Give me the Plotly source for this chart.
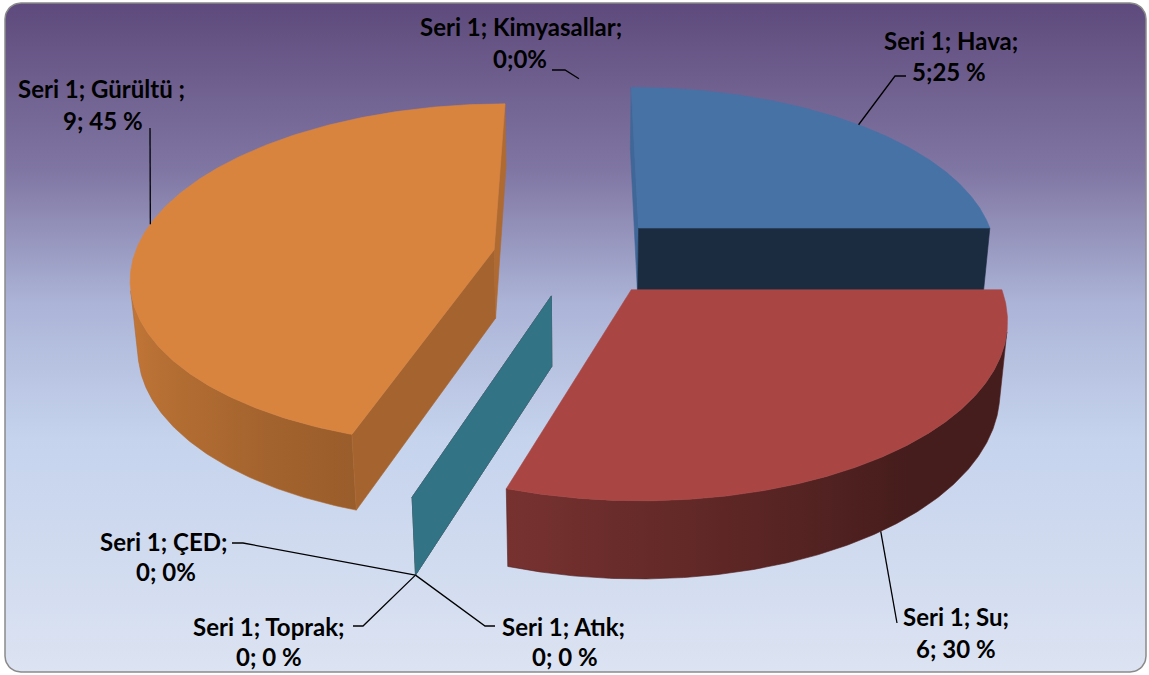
import numpy as np
import plotly.graph_objects as go

# ---------------- data ----------------
series_name = "Seri 1"
categories = ["Hava", "Su", "Atık", "Toprak", "ÇED", "Gürültü", "Kimyasallar"]
values = [5, 6, 0, 0, 0, 9, 0]
label_line1 = ["Seri 1; Hava;", "Seri 1; Su;", "Seri 1; Atık;", "Seri 1; Toprak;",
               "Seri 1; ÇED;", "Seri 1; Gürültü ;", "Seri 1; Kimyasallar;"]
label_line2 = ["5;25 %", "6; 30 %", "0; 0 %", "0; 0 %", "0; 0%", "9; 45 %", "0;0%"]

# ---------------- style ----------------
slice_colors = ["#4F81BD", "#C0504D", "#9BBB59", "#8064A2", "#4BACC6", "#F79646", "#2C4D75"]
W, H = 1149, 675
CX, CY = 579, 256          # pixel position of pie centre
SCALE = 360                 # pixels per unit radius
TILT = np.radians(28)       # elevation of the view
DIST = 6.0                  # camera distance (perspective)
EXPLODE = 0.24              # explosion, in radius units
DEPTH = 0.22                # pie thickness, in radius units
TOP_SHADE = 0.88
FONT = dict(family="Lato", size=24, color="#000000")
# label placement (layout only)
label_layout = [
    dict(l1=(951, 40), l2=(949, 71), lead=[(906, 76), (895, 76)], anchor="top"),
    dict(l1=(956, 616), l2=(956, 648), lead=[(897, 623)], anchor="bottom"),
    dict(l1=(563, 626), l2=(565, 656), lead=[(495, 626), (485, 626)], anchor="bottom"),
    dict(l1=(269, 626), l2=(269, 656), lead=[(353, 626), (363, 626)], anchor="bottom"),
    dict(l1=(164, 541), l2=(166, 571), lead=[(232, 543), (243, 543)], anchor="bottom"),
    dict(l1=(101, 88), l2=(103, 120), lead=[(150, 128)], anchor="top"),
    dict(l1=(521, 26), l2=(520, 58), lead=[(552, 70), (565, 70)], anchor="top"),
]

sinT, cosT = np.sin(TILT), np.cos(TILT)
CAM = np.array([0.0, DIST * sinT, DIST * cosT])


def project(X, Y, Z):
    X, Y, Z = np.asarray(X, float), np.asarray(Y, float), np.asarray(Z, float)
    yc = Y * cosT - Z * sinT
    zc = Y * sinT + Z * cosT
    f = DIST / (DIST - zc)
    return CX + SCALE * X * f, CY - SCALE * yc * f


def hex2rgb(h):
    h = h.lstrip("#")
    return np.array([int(h[i:i + 2], 16) for i in (0, 2, 4)], float)


def shade(hexcol, k):
    c = np.clip(hex2rgb(hexcol) * k, 0, 255)
    return "rgb(%d,%d,%d)" % tuple(c.round())


def clock_angle(nx, nz):
    return np.degrees(np.arctan2(nx, -nz)) % 360


def cut_light(a):
    return np.interp(a, [0, 90, 108, 180, 270, 360], [0.80, 0.71, 0.67, 0.34, 0.80, 0.80])


def wall_light(a):
    return np.interp(a, [0, 90, 140, 165, 198, 250, 270, 360],
                     [0.80, 0.36, 0.36, 0.47, 0.62, 0.78, 0.80, 0.80])


total = float(sum(values))
starts = np.concatenate([[0], np.cumsum(values)[:-1]]) / total * 2 * np.pi
ends = np.cumsum(values) / total * 2 * np.pi

fig = go.Figure()

# background with rounded corners and vertical gradient
r = 16
x0, x1, y0, y1 = 5, W - 3, 3, H - 3
t = np.linspace(0, np.pi / 2, 12)
bx = np.concatenate([x1 - r + r * np.sin(t), x1 - r + r * np.cos(t), x0 + r - r * np.sin(t), x0 + r - r * np.cos(t)])
by = np.concatenate([y0 + r - r * np.cos(t), y1 - r + r * np.sin(t), y1 - r + r * np.cos(t), y0 + r - r * np.sin(t)])
fig.add_trace(go.Scatter(
    x=np.append(bx, bx[0]), y=np.append(by, by[0]), mode="lines", fill="toself",
    line=dict(color="#8a8a8a", width=1.5),
    fillgradient=dict(type="vertical", colorscale=[
        [0.0, "rgb(220,227,242)"], [0.35, "rgb(197,211,237)"], [0.55, "rgb(172,180,215)"],
        [0.75, "rgb(128,118,163)"], [1.0, "rgb(94,74,124)"]]),
    hoverinfo="skip", showlegend=False))


def add_poly(xs, ys, color, grad=None):
    kw = {}
    if grad is not None:
        kw["fillgradient"] = dict(type="horizontal", colorscale=grad)
    fig.add_trace(go.Scatter(x=np.append(xs, xs[0]), y=np.append(ys, ys[0]), mode="lines",
                             fill="toself", fillcolor=color, line=dict(color=color, width=0.6),
                             hoverinfo="skip", showlegend=False, **kw))


slices = []
for i, v in enumerate(values):
    a0, a1 = starts[i], ends[i]
    mid = (a0 + a1) / 2
    ox, oz = EXPLODE * np.sin(mid), -EXPLODE * np.cos(mid)
    slices.append((oz * cosT, i, a0, a1, ox, oz))
slices.sort(key=lambda s: (s[0], s[1]))

anchors = {}
for depth_key, i, a0, a1, ox, oz in slices:
    col = slice_colors[i]
    # radial cut faces
    for ang, sgn in ((a0, -1), (a1, 1)):
        n = sgn * np.array([np.cos(ang), 0, np.sin(ang)])
        P = np.array([ox, 0, oz])
        if n.dot(CAM - P) > 1e-3:
            rx, rz = ox + np.sin(ang), oz - np.cos(ang)
            sx, sy = project([ox, rx, rx, ox], [0, 0, -DEPTH, -DEPTH], [oz, rz, rz, oz])
            add_poly(sx, sy, shade(col, cut_light(clock_angle(n[0], n[2]))))
    # outer wall and top face
    if a1 > a0:
        th = np.linspace(a0, a1, 240)
        PX, PZ = ox + np.sin(th), oz - np.cos(th)
        nx, nz = np.sin(th), -np.cos(th)
        vis = nx * (CAM[0] - PX) + nz * (CAM[2] - PZ) > 0
        idx = np.where(vis)[0]
        if len(idx) > 1:
            runs = np.split(idx, np.where(np.diff(idx) > 1)[0] + 1)
            for run in runs:
                if len(run) < 2:
                    continue
                tx, ty = project(PX[run], np.zeros(len(run)), PZ[run])
                bx2, by2 = project(PX[run], -DEPTH * np.ones(len(run)), PZ[run])
                lights = wall_light(clock_angle(nx[run], nz[run]))
                order = np.argsort(tx)
                xs_sorted = tx[order]
                span = xs_sorted[-1] - xs_sorted[0]
                stops, last = [], -1
                for k in np.linspace(0, len(order) - 1, 14).astype(int):
                    p = (xs_sorted[k] - xs_sorted[0]) / span if span > 0 else 0
                    if p > last:
                        stops.append([float(p), shade(col, lights[order[k]])])
                        last = p
                stops[0][0], stops[-1][0] = 0.0, 1.0
                mean_col = shade(col, float(np.mean(lights)))
                add_poly(np.concatenate([tx, bx2[::-1]]), np.concatenate([ty, by2[::-1]]), mean_col, grad=stops)
        sx, sy = project(np.concatenate([[ox], ox + np.sin(th)]), np.zeros(len(th) + 1),
                         np.concatenate([[oz], oz - np.cos(th)]))
        add_poly(sx, sy, shade(col, TOP_SHADE))
    # leader anchor at the slice's mid angle
    midang = (a0 + a1) / 2
    yv = 0 if label_layout[i]["anchor"] == "top" else -DEPTH
    ax_, ay_ = project(ox + np.sin(midang), yv, oz - np.cos(midang))
    anchors[i] = (float(ax_), float(ay_))

# leader lines
lx, ly = [], []
for i in range(len(categories)):
    for p in label_layout[i]["lead"] + [anchors[i]]:
        lx.append(p[0]); ly.append(p[1])
    lx.append(None); ly.append(None)
fig.add_trace(go.Scatter(x=lx, y=ly, mode="lines", line=dict(color="black", width=1.3),
                         hoverinfo="skip", showlegend=False))

annotations = []
for i in range(len(categories)):
    for txt, pos in ((label_line1[i], label_layout[i]["l1"]), (label_line2[i], label_layout[i]["l2"])):
        annotations.append(dict(x=pos[0], y=pos[1], xref="x", yref="y", text="<b>%s</b>" % txt,
                                showarrow=False, xanchor="center", yanchor="middle", font=FONT))

fig.update_layout(
    width=W, height=H, margin=dict(l=0, r=0, t=0, b=0),
    paper_bgcolor="white", plot_bgcolor="white",
    xaxis=dict(range=[0, W], visible=False, fixedrange=True),
    yaxis=dict(range=[H, 0], visible=False, fixedrange=True),
    annotations=annotations, showlegend=False,
)
fig.write_html("out.html", config={"displayModeBar": False},
               post_script="document.body.style.margin='0px';document.body.style.overflow='hidden';")
